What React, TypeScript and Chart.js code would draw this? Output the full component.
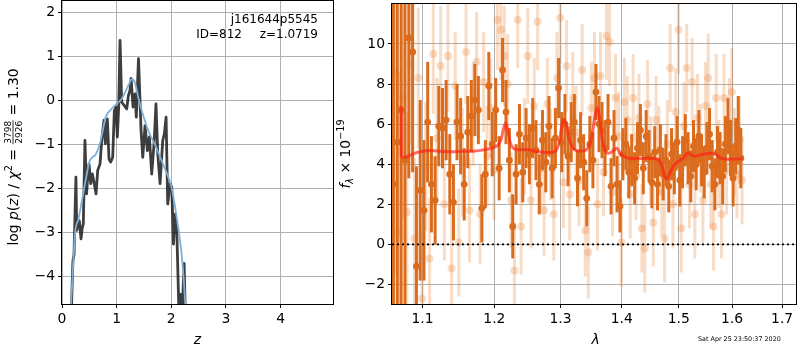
import React, { useEffect, useRef } from 'react';
import { Chart, registerables } from 'chart.js';
Chart.register(...registerables);

const FONT = '"DejaVu Sans", sans-serif';
const FS = 13.9;

// ---------- left panel: p(z) ----------
const zTicks = [0, 1, 2, 3, 4];
const logTicks = [-4, -3, -2, -1, 0, 1, 2];
// noisy log p(z) curve [z, log p]
const pzCurve = [
  [0.165, -5.0], [0.2, -3.64], [0.22, -3.5], [0.255, -1.74], [0.27, -2.95], [0.3, -2.75], [0.317, -2.73],
  [0.348, -3.14], [0.37, -2.9], [0.39, -2.8], [0.42, -0.91], [0.45, -2.12], [0.47, -1.75], [0.495, -1.44],
  [0.525, -1.89], [0.555, -1.67], [0.586, -1.86], [0.623, -2.12], [0.653, -1.59], [0.696, -1.44],
  [0.727, -0.91], [0.769, -0.45], [0.793, -0.98], [0.83, -0.42], [0.86, -1.33], [0.89, -1.4], [0.928, -1.29],
  [0.958, -0.23], [0.989, -0.15], [1.013, -0.83], [1.038, -0.15], [1.062, 1.36], [1.093, -0.04],
  [1.135, -0.11], [1.185, -0.19], [1.215, 0.11], [1.245, 0.23], [1.265, 0.5], [1.3, -0.15], [1.337, 0.15],
  [1.36, -0.38], [1.4, 0.95], [1.447, -0.68], [1.478, -1.29], [1.52, -0.57], [1.563, -1.14], [1.6, -0.83],
  [1.642, -1.67], [1.685, -0.98], [1.72, -0.08], [1.753, -1.21], [1.795, -1.89], [1.844, -0.91],
  [1.874, -0.76], [1.905, -0.38], [1.935, -2.35], [1.978, -1.89], [2.009, -1.97], [2.04, -3.26],
  [2.07, -2.58], [2.1, -2.88], [2.14, -4.8], [2.17, -4.4], [2.2, -4.8], [2.235, -3.7], [2.26, -5.0],
];
// smooth template p(z) [z, log p]
const pzSmooth = [
  [0.15, -4.9], [0.18, -4.3], [0.24, -3.0], [0.3, -2.7], [0.42, -1.9], [0.5, -1.4], [0.55, -1.3],
  [0.62, -1.22], [0.7, -0.95], [0.76, -0.6], [0.8, -0.38], [0.9, -0.2], [1.0, -0.08], [1.1, 0.05],
  [1.2, 0.3], [1.28, 0.48], [1.33, 0.42], [1.4, 0.05], [1.5, -0.4], [1.6, -0.75], [1.7, -1.0],
  [1.8, -1.3], [1.9, -1.6], [2.0, -1.95], [2.08, -2.5], [2.14, -3.0], [2.19, -3.5], [2.23, -4.1], [2.27, -4.9],
];

// ---------- right panel: spectrum ----------
const lamTicks = [1.1, 1.2, 1.3, 1.4, 1.5, 1.6, 1.7];
const fluxTicks = [-2, 0, 2, 4, 6, 8, 10];
// [lambda, flux, error]
const darkSpec = [
  [1.062, 3.0, 14], [1.067, 5.1, 12], [1.072, 6.7, 10], [1.077, 4.2, 8], [1.082, 10.3, 7], [1.087, 9.6, 6],
  [1.092, -1.1, 5], [1.097, 2.7, 4.5], [1.102, 1.7, 3.5], [1.107, 6.1, 3], [1.112, 3.0, 2.4], [1.117, 2.2, 2.2],
  [1.122, 5.9, 2.0], [1.127, 5.8, 2.0], [1.132, 6.2, 2.0], [1.137, 3.5, 2.0], [1.142, 2.1, 1.9], [1.147, 6.1, 1.9],
  [1.152, 5.4, 1.9], [1.157, 3.0, 1.8], [1.162, 5.6, 1.8], [1.167, 6.4, 1.8], [1.172, 7.2, 1.8], [1.177, 6.7, 1.7],
  [1.182, 1.8, 1.7], [1.187, 3.5, 1.7], [1.192, 7.9, 1.7], [1.197, 5.0, 1.6], [1.202, 6.7, 1.6], [1.207, 3.8, 1.6],
  [1.212, 8.7, 1.6], [1.217, 6.6, 1.6], [1.222, 4.2, 1.6], [1.227, 0.9, 1.6], [1.232, 3.5, 1.5], [1.237, 5.5, 1.5],
  [1.242, 3.6, 1.5], [1.247, 5.3, 1.5], [1.252, 4.5, 1.5], [1.257, 5.8, 1.5], [1.262, 4.7, 1.5], [1.267, 3.0, 1.5],
  [1.272, 5.2, 1.5], [1.277, 4.1, 1.5], [1.282, 5.9, 1.5], [1.287, 3.8, 1.5], [1.292, 5.3, 1.5], [1.297, 7.8, 1.5],
  [1.302, 5.1, 1.5], [1.307, 6.0, 1.5], [1.312, 4.4, 1.5], [1.317, 5.6, 1.5], [1.322, 6.1, 1.4], [1.327, 3.3, 1.4],
  [1.332, 5.2, 1.4], [1.337, 4.1, 1.4], [1.342, 2.3, 1.4], [1.347, 5.0, 1.4], [1.352, 4.2, 1.4], [1.357, 7.6, 1.4],
  [1.362, 6.0, 1.4], [1.367, 5.7, 1.4], [1.372, 4.8, 1.4], [1.377, 6.1, 1.4], [1.382, 2.9, 1.4], [1.387, 5.3, 1.4],
  [1.392, 3.0, 1.4], [1.397, 1.9, 1.3], [1.402, 4.5, 1.3], [1.407, 5.0, 1.3], [1.412, 3.6, 1.3], [1.417, 4.2, 1.3],
  [1.422, 3.3, 1.3], [1.427, 4.8, 1.3], [1.432, 5.7, 1.3], [1.437, 3.8, 1.3], [1.442, 5.4, 1.3], [1.447, 4.4, 1.3],
  [1.452, 3.1, 1.3], [1.457, 4.6, 1.3], [1.462, 3.0, 1.3], [1.467, 4.7, 1.3], [1.472, 3.5, 1.3], [1.477, 4.2, 1.3],
  [1.482, 2.9, 1.3], [1.487, 4.5, 1.3], [1.492, 3.8, 1.3], [1.497, 5.1, 1.3], [1.502, 3.2, 1.3], [1.507, 4.1, 1.3],
  [1.512, 5.2, 1.3], [1.517, 4.3, 1.3], [1.522, 3.4, 1.3], [1.527, 4.9, 1.3], [1.532, 4.0, 1.3], [1.537, 5.4, 1.3],
  [1.542, 4.2, 1.3], [1.547, 3.6, 1.3], [1.552, 4.8, 1.3], [1.557, 5.5, 1.3], [1.562, 3.9, 1.3], [1.567, 3.0, 1.3],
  [1.572, 4.6, 1.3], [1.577, 4.3, 1.3], [1.582, 3.4, 1.4], [1.587, 5.0, 1.4], [1.592, 5.9, 1.4], [1.597, 4.8, 1.4],
  [1.602, 3.3, 1.4], [1.607, 4.9, 1.4], [1.612, 5.7, 1.7], [1.617, 4.3, 1.5],
];
const lightSpec = [
  [1.0645, 8.5, 10], [1.0695, 0.6, 8], [1.0745, 7.3, 6], [1.0795, 1.6, 5], [1.0845, 9.0, 4], [1.0895, 0.3, 4],
  [1.0945, 8.3, 3.5], [1.0995, -2.7, 3.5], [1.1045, 3.9, 3.2], [1.1095, -0.7, 3], [1.1145, 9.5, 3], [1.1195, 5.3, 3],
  [1.1245, 8.9, 3], [1.1295, 2.0, 2.8], [1.1345, 9.4, 2.8], [1.1395, -1.2, 2.8], [1.1445, 7.9, 2.7], [1.1495, 0.1, 2.7],
  [1.1545, 4.1, 2.7], [1.1595, 9.6, 2.6], [1.1645, 1.7, 2.6], [1.1695, 6.5, 2.6], [1.1745, 9.1, 2.5], [1.1795, 1.5, 2.5],
  [1.1845, 8.1, 2.5], [1.1895, 4.4, 2.5], [1.1945, 6.8, 2.5], [1.1995, 3.7, 2.5], [1.2045, 11.2, 2.5], [1.2095, 10.7, 2.5],
  [1.2145, 9.4, 2.5], [1.2195, 8.0, 2.5], [1.2245, 2.2, 2.4], [1.2295, -1.3, 2.4], [1.2345, 11.2, 2.4], [1.2395, 0.9, 2.4],
  [1.2445, 4.9, 2.4], [1.2495, 9.4, 2.4], [1.2545, 2.2, 2.4], [1.2595, 6.9, 2.4], [1.2645, 11.1, 2.4], [1.2695, 3.8, 2.3],
  [1.2745, 1.7, 2.3], [1.2795, 7.0, 2.3], [1.2845, 4.5, 2.3], [1.2895, 1.5, 2.3], [1.2945, 8.3, 2.3], [1.2995, 11.3, 2.3],
  [1.3045, 3.1, 2.3], [1.3095, 8.9, 2.3], [1.3145, 2.5, 2.3], [1.3195, 7.3, 2.3], [1.3245, 5.6, 2.3], [1.3295, 3.2, 2.3],
  [1.3345, 8.7, 2.3], [1.3395, 0.7, 2.3], [1.3445, -0.4, 2.3], [1.3495, 6.8, 2.3], [1.3545, 8.3, 2.3], [1.3595, 2.0, 2.3],
  [1.3645, 8.4, 2.2], [1.3695, 3.6, 2.2], [1.3745, 10.4, 2.2], [1.3795, 10.1, 2.2], [1.3845, 2.6, 2.2], [1.3895, 7.3, 2.2],
  [1.3945, 5.4, 2.2], [1.3995, 0.1, 2.2], [1.4045, 7.1, 2.2], [1.4095, 6.2, 2.2], [1.4145, 2.5, 2.2], [1.4195, 7.3, 2.2],
  [1.4245, 3.4, 2.2], [1.4295, 6.3, 2.2], [1.4345, 0.8, 2.2], [1.4395, -0.2, 2.2], [1.4445, 7.0, 2.2], [1.4495, 4.2, 2.2],
  [1.4545, 1.1, 2.2], [1.4595, 6.2, 2.2], [1.4645, 4.7, 2.2], [1.4695, 2.6, 2.2], [1.4745, 0.3, 2.2], [1.4795, 5.0, 2.2],
  [1.4845, 8.8, 2.2], [1.4895, 2.0, 2.2], [1.4945, 6.6, 2.2], [1.4995, 10.7, 2.2], [1.5045, 0.8, 2.2], [1.5095, 5.9, 2.2],
  [1.5145, 8.8, 2.2], [1.5195, 3.0, 2.2], [1.5245, 8.1, 2.2], [1.5295, 1.5, 2.2], [1.5345, 6.3, 2.2], [1.5395, 4.8, 2.2],
  [1.5445, 2.2, 2.2], [1.5495, 6.9, 2.2], [1.5545, 8.3, 2.2], [1.5595, 3.0, 2.2], [1.5645, 0.9, 2.2], [1.5695, 7.3, 2.2],
  [1.5745, 4.0, 2.2], [1.5795, 1.5, 2.2], [1.5845, 7.3, 2.2], [1.5895, 3.7, 2.2], [1.5945, 6.1, 2.2], [1.5995, 7.6, 2.2],
  [1.6045, 4.6, 2.2], [1.6095, 3.5, 2.2], [1.6145, 5.2, 2.2], [1.6195, 3.2, 2.2],
];
// best-fit model [lambda, flux]
const modelSpec = [
  [1.072, 6.9], [1.0722, 4.4], [1.076, 4.35], [1.082, 4.42], [1.09, 4.55], [1.1, 4.65], [1.11, 4.68], [1.125, 4.65],
  [1.14, 4.62], [1.155, 4.65], [1.17, 4.65], [1.185, 4.72], [1.198, 4.82], [1.205, 4.95], [1.21, 5.25], [1.2135, 5.8],
  [1.2165, 6.05], [1.2195, 5.75], [1.223, 5.1], [1.228, 4.8], [1.235, 4.72], [1.25, 4.72], [1.265, 4.62], [1.28, 4.58],
  [1.292, 4.65], [1.298, 5.1], [1.302, 5.9], [1.3053, 6.25], [1.309, 5.95], [1.314, 5.2], [1.32, 4.8], [1.33, 4.65],
  [1.34, 4.7], [1.347, 5.0], [1.352, 5.7], [1.356, 6.5], [1.3595, 6.8], [1.363, 6.3], [1.367, 5.3], [1.372, 4.7],
  [1.378, 4.55], [1.385, 4.65], [1.392, 4.8], [1.397, 4.55], [1.403, 4.4], [1.412, 4.3], [1.425, 4.28], [1.445, 4.3],
  [1.462, 4.25], [1.469, 4.0], [1.474, 3.45], [1.478, 3.25], [1.483, 3.5], [1.49, 3.9], [1.5, 4.15], [1.51, 4.35],
  [1.517, 4.58], [1.523, 4.45], [1.53, 4.4], [1.545, 4.5], [1.56, 4.55], [1.568, 4.5], [1.578, 4.3], [1.59, 4.25],
  [1.605, 4.25], [1.62, 4.3],
];

const GRID = '#b0b0b0';
const DARK = 'rgb(219,108,30)';
const LIGHT = 'rgba(232,125,45,0.27)';

const minus = (v: number) => (v < 0 ? '\u2212' + String(Math.abs(v)) : String(v));

const errorBarPlugin = {
  id: 'errbars',
  beforeDatasetDraw(chart: any, args: any) {
    const ds: any = chart.data.datasets[args.index];
    if (!ds.errors) return;
    const { ctx, chartArea: a, scales } = chart;
    ctx.save();
    ctx.beginPath();
    ctx.rect(a.left, a.top, a.right - a.left, a.bottom - a.top);
    ctx.clip();
    ctx.strokeStyle = ds.errColor;
    ctx.lineWidth = ds.errWidth;
    ds.data.forEach((p: any, i: number) => {
      const e = ds.errors[i];
      const x = scales.x.getPixelForValue(p.x);
      ctx.beginPath();
      ctx.moveTo(x, scales.y.getPixelForValue(p.y - e));
      ctx.lineTo(x, scales.y.getPixelForValue(p.y + e));
      ctx.stroke();
    });
    ctx.restore();
  },
};

const framePlugin = {
  id: 'frame',
  afterDatasetsDraw(chart: any) {
    const { ctx, chartArea: a } = chart;
    ctx.save();
    ctx.strokeStyle = '#000';
    ctx.lineWidth = 1;
    ctx.strokeRect(Math.round(a.left) - 0.5, Math.round(a.top) - 0.5, Math.round(a.right - a.left) + 1, Math.round(a.bottom - a.top) + 1);
    ctx.restore();
  },
};

type Piece = { t?: string; f: string; dy?: number; num?: string; den?: string };

function drawRotRich(ctx: CanvasRenderingContext2D, pieces: Piece[], bx: number, cy: number) {
  ctx.save();
  ctx.translate(bx, cy);
  ctx.rotate(-Math.PI / 2);
  ctx.fillStyle = '#000';
  ctx.textBaseline = 'alphabetic';
  ctx.textAlign = 'left';
  const widths = pieces.map((p) => {
    ctx.font = p.f;
    if (p.num) return Math.max(ctx.measureText(p.num).width, ctx.measureText(p.den!).width) + 2;
    return ctx.measureText(p.t!).width;
  });
  const total = widths.reduce((s, w) => s + w, 0);
  let x = -total / 2;
  pieces.forEach((p, i) => {
    ctx.font = p.f;
    const w = widths[i];
    if (p.num) {
      ctx.textAlign = 'center';
      ctx.fillText(p.num, x + w / 2, -6.2);
      ctx.fillText(p.den!, x + w / 2, 4.8);
      ctx.fillRect(x + 0.5, -4.9, w - 1, 0.8);
      ctx.textAlign = 'left';
    } else {
      ctx.fillText(p.t!, x, p.dy || 0);
    }
    x += w;
  });
  ctx.restore();
}

const leftText = {
  id: 'leftText',
  afterDraw(chart: any) {
    const ctx: CanvasRenderingContext2D = chart.ctx;
    const R = `${FS}px ${FONT}`;
    const I = `italic ${FS}px ${FONT}`;
    const S = `9.7px ${FONT}`;
    drawRotRich(ctx, [
      { t: 'log ', f: R }, { t: 'p', f: I }, { t: '(', f: R }, { t: 'z', f: I }, { t: ') / ', f: R },
      { t: '\u03c7', f: I }, { t: '2', f: S, dy: -6 }, { t: ' = ', f: R },
      { num: '3798', den: '2926', f: `9px ${FONT}` }, { t: ' = 1.30', f: R },
    ], 17.5, 157);
    ctx.save();
    ctx.fillStyle = '#000';
    ctx.textBaseline = 'middle';
    ctx.textAlign = 'center';
    ctx.font = I;
    ctx.fillText('z', 197.5, 340);
    ctx.font = `12px ${FONT}`;
    ctx.textAlign = 'right';
    ctx.fillText('j161644p5545', 318, 20);
    ctx.fillText('z=1.0719', 318, 35);
    ctx.fillText('ID=812', 242, 35);
    ctx.restore();
  },
};

const rightText = {
  id: 'rightText',
  afterDraw(chart: any) {
    const ctx: CanvasRenderingContext2D = chart.ctx;
    const R = `${FS}px ${FONT}`;
    const I = `italic ${FS}px ${FONT}`;
    drawRotRich(ctx, [
      { t: 'f', f: I }, { t: '\u03bb', f: `italic 9.7px ${FONT}`, dy: 3 }, { t: ' \u00d7 10', f: R },
      { t: '\u221219', f: `9.7px ${FONT}`, dy: -6.5 },
    ], 350, 154);
    ctx.save();
    ctx.fillStyle = '#000';
    ctx.textBaseline = 'middle';
    ctx.textAlign = 'center';
    ctx.font = I;
    ctx.fillText('\u03bb', 595.5, 340);
    ctx.font = `6.4px ${FONT}`;
    ctx.textAlign = 'left';
    ctx.fillText('Sat Apr 25 23:50:37 2020', 698, 339);
    ctx.restore();
  },
};

function axisCommon(ticksArr: number[], fmt: (v: number) => string) {
  return {
    afterBuildTicks: (s: any) => { s.ticks = ticksArr.map((v) => ({ value: v })); },
    grid: { color: GRID, lineWidth: 1, tickColor: '#000', tickLength: 4 },
    border: { display: false },
    ticks: { color: '#000', font: { family: FONT, size: FS }, padding: 3, maxRotation: 0, autoSkip: false, callback: (v: any) => fmt(Number(v)) },
  };
}

function xAxis(extra: any, ticksArr: number[], fmt: (v: number) => string) {
  return {
    ...extra,
    ...axisCommon(ticksArr, fmt),
    afterFit: (s: any) => { s.height = 46; s.paddingLeft = 0; s.paddingRight = 0; s.paddingTop = 0; s.paddingBottom = 0; },
  };
}
function yAxis(extra: any, ticksArr: number[], fmt: (v: number) => string, w: number) {
  return {
    ...extra,
    ...axisCommon(ticksArr, fmt),
    afterFit: (s: any) => { s.width = w; s.paddingLeft = 0; s.paddingRight = 0; s.paddingTop = 0; s.paddingBottom = 0; },
  };
}

export default function App() {
  const leftRef = useRef<HTMLCanvasElement>(null);
  const rightRef = useRef<HTMLCanvasElement>(null);

  useEffect(() => {
    const left = new Chart(leftRef.current!, {
      type: 'scatter',
      data: {
        datasets: [
          {
            data: pzSmooth.map(([x, y]) => ({ x, y })), showLine: true, borderColor: 'rgb(128,176,216)',
            borderWidth: 1.8, pointRadius: 0, cubicInterpolationMode: 'monotone', order: 0,
          } as any,
          {
            data: pzCurve.map(([x, y]) => ({ x, y })), showLine: true, borderColor: 'rgba(20,20,20,0.82)',
            borderWidth: 2.8, pointRadius: 0, borderJoinStyle: 'round', order: 1,
          } as any,
        ],
      },
      options: {
        animation: false,
        responsive: false,
        events: [],
        layout: { padding: { left: 0, top: 1, right: 467, bottom: 0 } },
        plugins: { legend: { display: false }, tooltip: { enabled: false } },
        scales: {
          x: xAxis({ type: 'linear', min: 0, max: 4.96 }, zTicks, (v) => String(v)),
          y: yAxis({ type: 'linear', min: -4.62, max: 2.256 }, logTicks, minus, 62),
        },
      } as any,
      plugins: [framePlugin, leftText],
    });

    const right = new Chart(rightRef.current!, {
      type: 'scatter',
      data: {
        datasets: [
          {
            data: [{ x: 1.0602, y: 0 }, { x: 1.7287, y: 0 }], showLine: true, borderColor: '#000', borderWidth: 1.8,
            borderDash: [2, 3], pointRadius: 0, order: 0,
          } as any,
          {
            data: modelSpec.map(([x, y]) => ({ x, y })), showLine: true, borderColor: 'rgba(255,30,20,0.65)',
            borderWidth: 3, pointRadius: 0, cubicInterpolationMode: 'monotone', order: 1,
          } as any,
          {
            data: darkSpec.map(([x, y]) => ({ x, y })), errors: darkSpec.map((d) => d[2]), errColor: DARK, errWidth: 3,
            pointRadius: 3.4, pointBackgroundColor: DARK, pointBorderWidth: 0, order: 2,
          } as any,
          {
            data: lightSpec.map(([x, y]) => ({ x, y })), errors: lightSpec.map((d) => d[2]), errColor: LIGHT, errWidth: 3,
            pointRadius: 4, pointBackgroundColor: LIGHT, pointBorderWidth: 0, order: 3,
          } as any,
        ],
      },
      options: {
        animation: false,
        responsive: false,
        events: [],
        layout: { padding: { left: 340, top: 1, right: 1, bottom: 0 } },
        plugins: { legend: { display: false }, tooltip: { enabled: false } },
        scales: {
          x: xAxis({ type: 'logarithmic', min: 1.0602, max: 1.7287 }, lamTicks, (v) => v.toFixed(1)),
          y: yAxis({ type: 'linear', min: -2.97, max: 11.99 }, fluxTicks, minus, 52),
        },
      } as any,
      plugins: [errorBarPlugin, framePlugin, rightText],
    });

    return () => {
      left.destroy();
      right.destroy();
    };
  }, []);

  return (
    <div style={{ position: 'fixed', left: 0, top: 0, width: 800, height: 350, background: '#fff' }}>
      <canvas ref={leftRef} width={800} height={350} style={{ position: 'absolute', left: 0, top: 0 }} />
      <canvas ref={rightRef} width={800} height={350} style={{ position: 'absolute', left: 0, top: 0 }} />
    </div>
  );
}
